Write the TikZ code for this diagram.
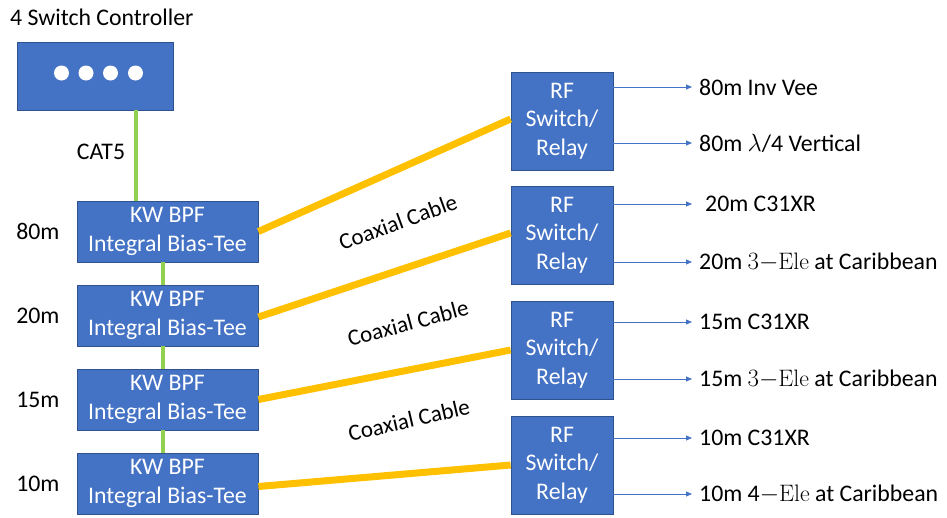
\documentclass[tikz,border=0pt]{standalone}
\usepackage{fontspec}
\setsansfont{Carlito}
\usetikzlibrary{arrows.meta}
\definecolor{boxblue}{HTML}{4472C4}
\definecolor{boxedge}{HTML}{2F528F}
\definecolor{catgreen}{HTML}{92D050}
\definecolor{coaxyellow}{HTML}{FFC000}
\tikzset{
  bluebox/.style={draw=boxedge, line width=0.8pt, fill=boxblue, text=white, align=center,
    font=\sffamily\fontsize{23.8}{28.5}\selectfont, inner sep=0pt},
  kwbox/.style={bluebox, minimum width=181pt, minimum height=61pt},
  rfbox/.style={bluebox, minimum width=102pt, minimum height=98pt},
  plain/.style={font=\sffamily\fontsize{23.8}{28}\selectfont, inner sep=2pt},
  antlabel/.style={plain, anchor=west},
  bandlabel/.style={plain, anchor=east},
  dot/.style={circle, fill=white, draw=none, minimum size=15pt, inner sep=0pt},
  cat/.style={catgreen, line width=4.5pt},
  coax/.style={coaxyellow, line width=7pt},
  feed/.style={boxblue, line width=0.8pt, shorten >=5pt, -{Triangle[length=6pt,width=5pt]}},
  coaxlabel/.style={plain, font=\sffamily\fontsize{23}{26}\selectfont}
}
\begin{document}
\begin{tikzpicture}[x=1pt,y=-1pt]
\useasboundingbox (0,0) rectangle (947,517);
% controller
\node[plain, anchor=west] (title) at (8,17) {4 Switch Controller};
\node[bluebox, minimum width=156pt, minimum height=68pt] (ctrl) at (95,76) {};
\node[dot] (c1) at (61.5,73) {};
\node[dot] (c2) at (86,73) {};
\node[dot] (c3) at (110.5,73) {};
\node[dot] (c4) at (135.5,73) {};
% KW boxes
\node[kwbox] (kw1) at (167.5,231.5) {KW BPF\\Integral Bias-Tee};
\node[kwbox] (kw2) at (167.5,315.5) {KW BPF\\Integral Bias-Tee};
\node[kwbox] (kw3) at (167.5,399.5) {KW BPF\\Integral Bias-Tee};
\node[kwbox] (kw4) at (167.5,483.5) {KW BPF\\Integral Bias-Tee};
\node[bandlabel] (b1) at ([xshift=-15pt]kw1.west) {80m};
\node[bandlabel] (b2) at ([xshift=-15pt]kw2.west) {20m};
\node[bandlabel] (b3) at ([xshift=-15pt]kw3.west) {15m};
\node[bandlabel] (b4) at ([xshift=-15pt]kw4.west) {10m};
% green CAT5
\draw[cat] ([xshift=41pt]ctrl.south) -- ([xshift=41pt]ctrl.south |- kw1.north);
\node[plain] (cat5) at (101,152) {CAT5};
\draw[cat] ([xshift=-4.5pt]kw1.south) -- ([xshift=-4.5pt]kw2.north);
\draw[cat] ([xshift=-4.5pt]kw2.south) -- ([xshift=-4.5pt]kw3.north);
\draw[cat] ([xshift=-4.5pt]kw3.south) -- ([xshift=-4.5pt]kw4.north);
% RF boxes
\node[rfbox] (rf1) at (562,121) {RF\\Switch/\\Relay};
\node[rfbox] (rf2) at (562,235) {RF\\Switch/\\Relay};
\node[rfbox] (rf3) at (562,350) {RF\\Switch/\\Relay};
\node[rfbox] (rf4) at (562,465) {RF\\Switch/\\Relay};
% coax
\draw[coax] (kw1.east) -- ([yshift=2pt]rf1.west);
\draw[coax] ([yshift=-1.5pt]kw2.east) -- ([yshift=2pt]rf2.west);
\draw[coax] (kw3.east) -- (rf3.west);
\draw[coax] ([yshift=-3pt]kw4.east) -- (rf4.west);
\node[coaxlabel, rotate=20] (cx1) at (398,222) {Coaxial Cable};
\node[coaxlabel, rotate=15] (cx2) at (408,323) {Coaxial Cable};
\node[coaxlabel, rotate=13] (cx3) at (409,420) {Coaxial Cable};
% antenna labels
\node[antlabel] (a1) at (697,87) {80m Inv Vee};
\node[antlabel] (a2) at (697,143) {80m $\lambda$/4 Vertical};
\node[antlabel] (a3) at (703,204) {20m C31XR};
\node[antlabel] (a4) at (697,262) {20m $3{-}\mathrm{Ele}$ at Caribbean};
\node[antlabel] (a5) at (697,322) {15m C31XR};
\node[antlabel] (a6) at (697,379) {15m $3{-}\mathrm{Ele}$ at Caribbean};
\node[antlabel] (a7) at (697,438) {10m C31XR};
\node[antlabel] (a8) at (697,494) {10m 4$\mathrm{}{-}\mathrm{Ele}$ at Caribbean};
\draw[feed] (rf1.east |- a1.west) -- (a1.west);
\draw[feed] (rf1.east |- a2.west) -- (a2.west);
\draw[feed] (rf2.east |- a3.west) -- ([xshift=-6pt]a3.west);
\draw[feed] (rf2.east |- a4.west) -- (a4.west);
\draw[feed] (rf3.east |- a5.west) -- (a5.west);
\draw[feed] (rf3.east |- a6.west) -- (a6.west);
\draw[feed] (rf4.east |- a7.west) -- (a7.west);
\draw[feed] (rf4.east |- a8.west) -- (a8.west);
\end{tikzpicture}
\end{document}
